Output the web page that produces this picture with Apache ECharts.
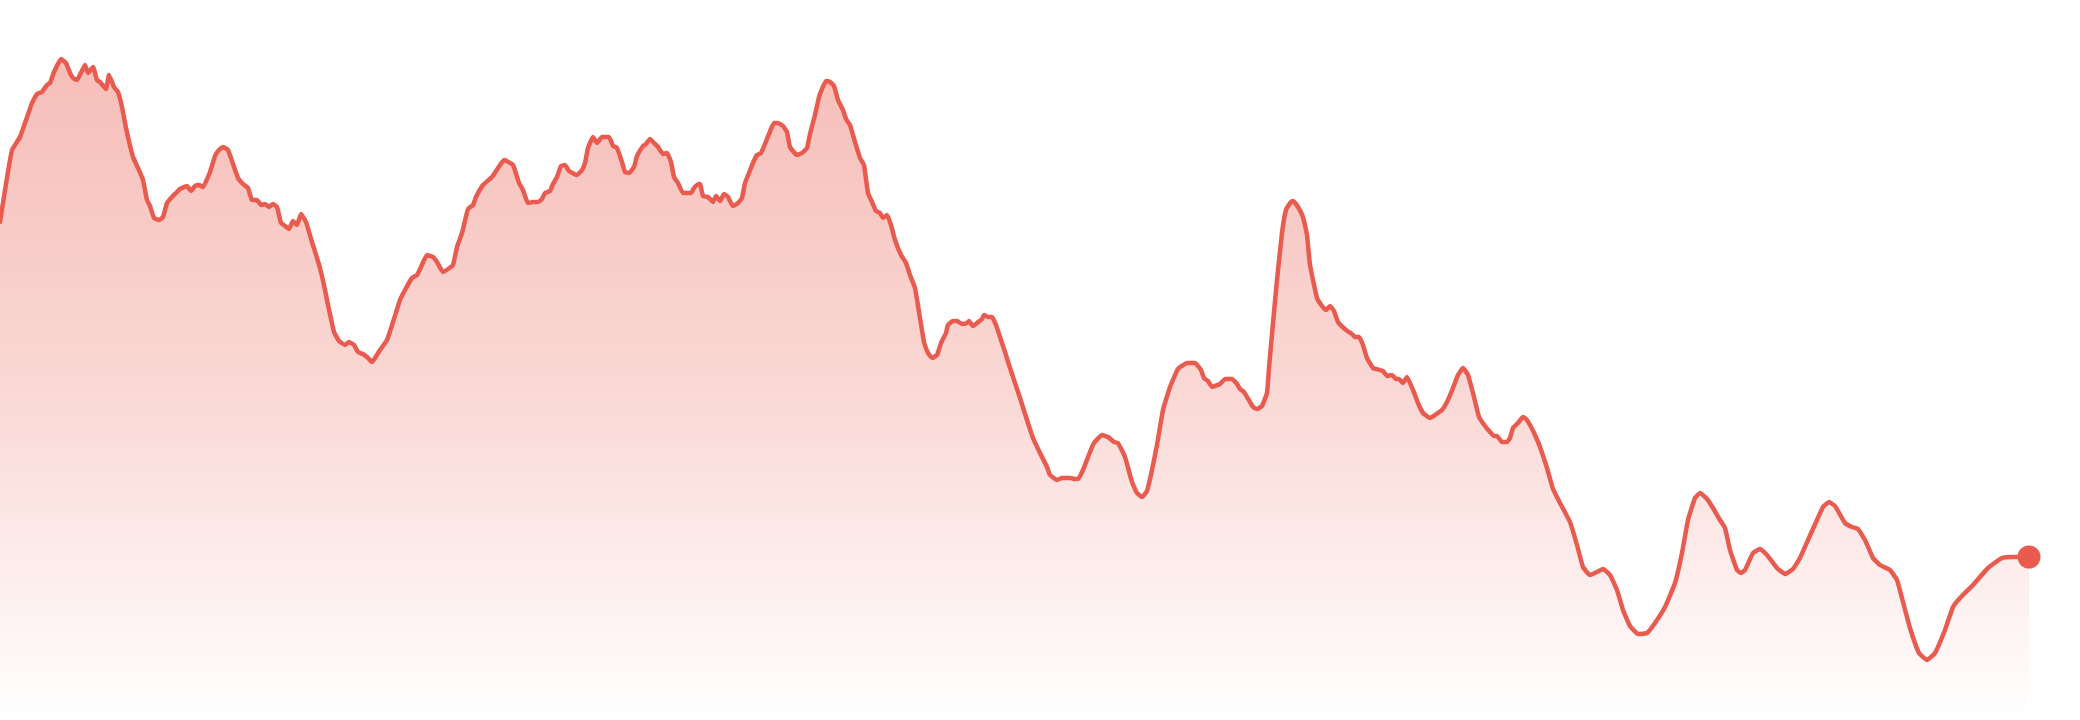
<!DOCTYPE html>
<html>
<head>
<meta charset="utf-8">
<script src="https://cdn.jsdelivr.net/npm/echarts@6/dist/echarts.min.js"></script>
<style>
html,body{margin:0;padding:0;background:#ffffff;}
#chart{width:2080px;height:720px;}
</style>
</head>
<body>
<div id="chart"></div>
<script>
// Positions along the time axis
const xs = [0,5,12,20,32,37,42,47,50,54,61,66,70,73,77,85,88,93,97,100,106,109,114,118,122,126,133,138,143,147,150,154,159,163,167,172,176,180,187,191,195,199,203,210,215,219,223,228,238,243,248,252,257,261,265,269,273,277,281,285,289,293,297,301,306,312,320,325,328,334,339,345,349,354,358,363,368,372,380,387,393,400,405,412,417,421,427,433,437,443,448,453,457,462,468,473,476,483,492,498,504,513,519,523,528,533,538,542,545,550,553,557,561,565,569,577,582,585,588,593,597,602,609,613,617,622,625,629,634,637,643,646,650,654,658,663,667,671,674,678,683,691,694,697,700,703,708,713,716,720,724,728,733,738,742,745,749,753,757,761,767,771,774,778,783,787,790,797,802,807,810,815,819,822,826,830,834,838,843,846,850,855,860,864,868,872,876,880,883,887,891,895,901,906,910,915,920,924,928,932,937,941,946,948,953,957,962,967,969,973,977,982,984,988,992,996,1000,1005,1010,1014,1020,1027,1033,1040,1047,1050,1057,1062,1070,1075,1078,1083,1090,1094,1102,1108,1114,1118,1125,1132,1137,1142,1147,1152,1157,1163,1170,1178,1187,1195,1201,1204,1208,1212,1220,1225,1232,1237,1240,1244,1253,1257,1262,1267,1269,1273,1277,1282,1286,1291,1293,1298,1303,1307,1310,1317,1322,1326,1330,1334,1338,1346,1352,1355,1359,1363,1367,1373,1380,1383,1387,1392,1396,1399,1403,1407,1413,1418,1423,1430,1435,1442,1447,1453,1458,1463,1468,1473,1479,1485,1490,1494,1497,1502,1507,1510,1513,1518,1523,1526,1530,1535,1540,1547,1553,1560,1570,1577,1583,1590,1597,1603,1610,1617,1623,1630,1638,1647,1655,1665,1675,1682,1688,1695,1700,1707,1713,1720,1725,1730,1737,1741,1745,1753,1760,1767,1777,1785,1793,1800,1808,1817,1823,1829,1835,1845,1852,1858,1865,1873,1880,1890,1897,1903,1910,1919,1927,1935,1945,1953,1960,1973,1988,2002,2013,2029];
// Series values
const vals = [498,530,570,583,617,626,628,635,637,648,661,657,647,642,640,655,647,653,640,638,631,645,633,628,613,592,563,552,540,520,514,502,500,503,517,523,527,531,534,529,534,535,533,548,564,570,573,570,542,536,532,520,520,515,516,513,516,513,497,494,491,499,495,506,498,478,452,430,415,388,379,375,378,375,368,366,362,358,370,380,398,420,430,442,445,453,465,463,458,448,451,455,473,487,511,515,523,535,543,552,560,555,537,530,517,518,518,521,527,529,536,543,554,555,549,545,550,557,572,583,577,583,583,574,572,558,548,547,553,564,574,576,581,577,573,566,567,558,543,537,527,527,532,535,536,524,523,518,524,519,526,523,514,517,522,537,547,557,565,567,581,591,597,597,594,588,573,565,567,572,586,605,623,631,639,638,634,620,610,601,595,578,562,555,527,518,509,507,502,505,495,480,465,457,445,432,402,378,367,362,365,377,387,395,399,399,396,397,399,394,397,401,405,403,403,395,383,368,352,340,322,300,282,267,253,245,240,242,242,241,241,250,268,277,285,283,278,277,263,238,227,223,229,250,275,310,333,351,357,357,350,342,339,333,336,341,341,336,331,328,313,311,314,327,352,397,440,487,510,518,519,513,503,485,455,422,414,410,414,409,398,390,386,383,383,375,362,352,350,349,344,345,341,341,337,343,330,317,307,302,305,310,318,332,345,352,345,327,303,294,288,284,284,278,278,282,292,297,303,301,295,285,273,252,231,217,198,175,153,145,148,151,145,130,110,94,86,87,97,113,137,167,200,222,227,221,212,200,192,170,150,147,150,167,171,165,152,146,151,162,180,200,213,218,214,197,193,191,180,162,155,150,140,118,92,67,60,67,90,113,122,135,152,162,163,163];

const lineColor = '#E95B4E';
const points = xs.map((x, i) => [x, vals[i]]);
const lastPoint = points[points.length - 1];

const chart = echarts.init(document.getElementById('chart'), null, {renderer: 'canvas'});
chart.setOption({
  animation: false,
  backgroundColor: '#ffffff',
  grid: {left: 0, right: 51, top: 0, bottom: 0},
  xAxis: {type: 'value', min: 0, max: 2029, show: false},
  yAxis: {type: 'value', min: 0, max: 720, show: false},
  series: [
    {
      type: 'line',
      data: points,
      symbol: 'none',
      smooth: 0.12,
      clip: false,
      lineStyle: {color: lineColor, width: 4.5, join: 'round', cap: 'round', opacity: 1},
      areaStyle: {
        color: {
          type: 'linear', x: 0, y: 0, x2: 0, y2: 1,
          colorStops: [
            {offset: 0, color: 'rgba(233,91,78,0.40)'},
            {offset: 0.5, color: 'rgba(233,91,78,0.24)'},
            {offset: 1, color: 'rgba(233,91,78,0.0)'}
          ]
        },
        opacity: 1
      },
      z: 2
    },
    {
      type: 'scatter',
      data: [lastPoint],
      symbol: 'circle',
      symbolSize: 23,
      itemStyle: {color: lineColor, opacity: 1},
      clip: false,
      z: 3
    }
  ]
});
</script>
</body>
</html>
